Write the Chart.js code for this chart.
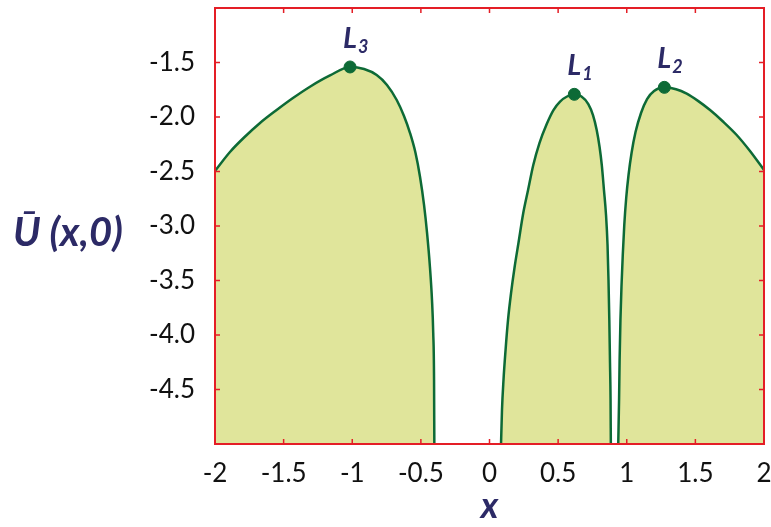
<!DOCTYPE html>
<html>
<head>
<meta charset="utf-8">
<script src="https://cdn.jsdelivr.net/npm/chart.js@4.4.1/dist/chart.umd.min.js"></script>
<style>
  html, body { margin: 0; padding: 0; background: #fff; }
  #wrap { width: 771px; height: 527px; }
</style>
</head>
<body>
<div id="wrap"><canvas id="potencial"></canvas></div>
<script>
// Ramo esquerdo (x < -mu)
const ramoEsqX = [-2.0, -1.891, -1.794, -1.672, -1.551, -1.432, -1.308, -1.162, -1.016, -0.914, -0.822, -0.747, -0.676, -0.623, -0.579, -0.539, -0.506, -0.477, -0.455, -0.434, -0.419, -0.41, -0.404, -0.402]
const ramoEsqY = [-2.495, -2.321, -2.195, -2.055, -1.936, -1.826, -1.722, -1.619, -1.541, -1.56, -1.615, -1.706, -1.844, -1.991, -2.147, -2.33, -2.55, -2.807, -3.064, -3.376, -3.679, -3.982, -4.413, -5.0]

// Ramo do meio (entre os primarios)
const ramoMeioX = [0.084, 0.091, 0.102, 0.117, 0.135, 0.157, 0.182, 0.211, 0.246, 0.281, 0.319, 0.364, 0.417, 0.466, 0.514, 0.565, 0.618, 0.67, 0.72, 0.754, 0.781, 0.802, 0.818, 0.834, 0.849, 0.86, 0.867, 0.873, 0.878, 0.882, 0.884]
const ramoMeioY = [-5.0, -4.688, -4.413, -4.138, -3.862, -3.615, -3.385, -3.156, -2.881, -2.67, -2.44, -2.239, -2.064, -1.936, -1.858, -1.812, -1.792, -1.812, -1.881, -1.982, -2.119, -2.275, -2.44, -2.67, -2.899, -3.174, -3.495, -3.862, -4.257, -4.596, -5.0]

// Ramo direito (x > 1-mu)
const ramoDirX = [0.938, 0.944, 0.948, 0.954, 0.962, 0.971, 0.982, 0.996, 1.013, 1.035, 1.064, 1.104, 1.148, 1.199, 1.274, 1.359, 1.437, 1.519, 1.607, 1.701, 1.801, 1.898, 2.0]
const ramoDirY = [-5.0, -4.596, -4.229, -3.862, -3.541, -3.266, -2.991, -2.743, -2.532, -2.33, -2.138, -1.963, -1.835, -1.761, -1.728, -1.745, -1.786, -1.852, -1.936, -2.041, -2.165, -2.312, -2.486]

// Pontos de Lagrange colineares
const lagrangeNomes = ["3", "1", "2"]
const lagrangeX = [-1.016, 0.618, 1.274]
const lagrangeY = [-1.541, -1.792, -1.728]

const ticksY = [-4.5, -4.0, -3.5, -3.0, -2.5, -2.0, -1.5]
const ticksX = [-2, -1.5, -1, -0.5, 0, 0.5, 1, 1.5, 2]

const corLinha = "#0d6a36"
const corArea = "rgb(224,229,155)"
const corMoldura = "#e41e26"
const corTitulo = "#2c2a66"

const juntar = (xs, ys) => xs.map((x, i) => ({ x, y: ys[i] }))

const ramo = (xs, ys) => ({
    type: 'line',
    data: juntar(xs, ys),
    borderColor: corLinha,
    borderWidth: 2.5,
    backgroundColor: corArea,
    fill: 'start',
    pointRadius: 0,
    cubicInterpolationMode: 'monotone'
})

// moldura vermelha com marcas para dentro, titulos e rotulos L
const moldura = {
    id: 'moldura',
    afterDatasetsDraw(chart) {
        const { ctx, chartArea: a, scales } = chart
        ctx.save()
        ctx.strokeStyle = corMoldura
        ctx.lineWidth = 2
        ctx.strokeRect(a.left, a.top, a.right - a.left, a.bottom - a.top)
        ctx.lineWidth = 1.5
        ctx.beginPath()
        ticksX.forEach(v => {
            const px = scales.x.getPixelForValue(v)
            ctx.moveTo(px, a.bottom); ctx.lineTo(px, a.bottom - 5)
            ctx.moveTo(px, a.top); ctx.lineTo(px, a.top + 5)
        })
        ticksY.forEach(v => {
            const py = scales.y.getPixelForValue(v)
            ctx.moveTo(a.left, py); ctx.lineTo(a.left + 5, py)
            ctx.moveTo(a.right, py); ctx.lineTo(a.right - 5, py)
        })
        ctx.stroke()

        ctx.fillStyle = corTitulo
        ctx.textBaseline = 'alphabetic'
        for (let j = 0; j < lagrangeX.length; j++) {
            const px = scales.x.getPixelForValue(lagrangeX[j])
            const py = scales.y.getPixelForValue(lagrangeY[j])
            ctx.font = "italic bold 29px Lato"
            ctx.textAlign = 'left'
            ctx.fillText("L", px - 7, py - 19)
            const w = ctx.measureText("L").width
            ctx.font = "italic bold 18px Lato"
            ctx.fillText(lagrangeNomes[j], px - 6 + w, py - 14)
        }

        ctx.font = "italic bold 36px Lato"
        ctx.textAlign = 'center'
        ctx.fillText("x", (a.left + a.right) / 2, 518)
        ctx.font = "italic bold 40px Lato"
        ctx.textAlign = 'left'
        ctx.fillText("\u016A (x,0)", 13, 246)
        ctx.restore()
    }
}

const criarGrafico = () => {
    const ctx = document.querySelector("#potencial")
    new Chart(ctx, {
        data: {
            datasets: [
                ramo(ramoEsqX, ramoEsqY),
                ramo(ramoMeioX, ramoMeioY),
                ramo(ramoDirX, ramoDirY),
                {
                    type: 'scatter',
                    data: juntar(lagrangeX, lagrangeY),
                    backgroundColor: corLinha,
                    borderColor: corLinha,
                    pointRadius: 6,
                    order: -1
                }
            ]
        },
        options: {
            responsive: true,
            maintainAspectRatio: false,
            animation: false,
            layout: { padding: { left: 0, right: 7, top: 8, bottom: 0 } },
            plugins: { legend: { display: false }, tooltip: { enabled: false } },
            scales: {
                x: {
                    type: 'linear',
                    min: -2, max: 2,
                    grid: { display: false },
                    border: { display: false },
                    afterBuildTicks: s => { s.ticks = ticksX.map(value => ({ value })) },
                    afterFit: s => {
                        s.height = 83
                        s.paddingLeft = 0
                        s.paddingRight = 0
                    },
                    ticks: {
                        padding: 6,
                        maxRotation: 0,
                        color: "#111",
                        font: { family: "Lato", size: 26 },
                        callback: v => String(v)
                    }
                },
                y: {
                    type: 'linear',
                    min: -5, max: -1,
                    grid: { display: false },
                    border: { display: false },
                    afterBuildTicks: s => { s.ticks = ticksY.map(value => ({ value })) },
                    afterFit: s => {
                        s.width = 215
                        s.paddingTop = 0
                        s.paddingBottom = 0
                    },
                    ticks: {
                        padding: 12,
                        color: "#111",
                        font: { family: "Lato", size: 26 },
                        callback: v => v.toFixed(1)
                    }
                }
            }
        },
        plugins: [moldura]
    })
}

criarGrafico()
</script>
</body>
</html>
